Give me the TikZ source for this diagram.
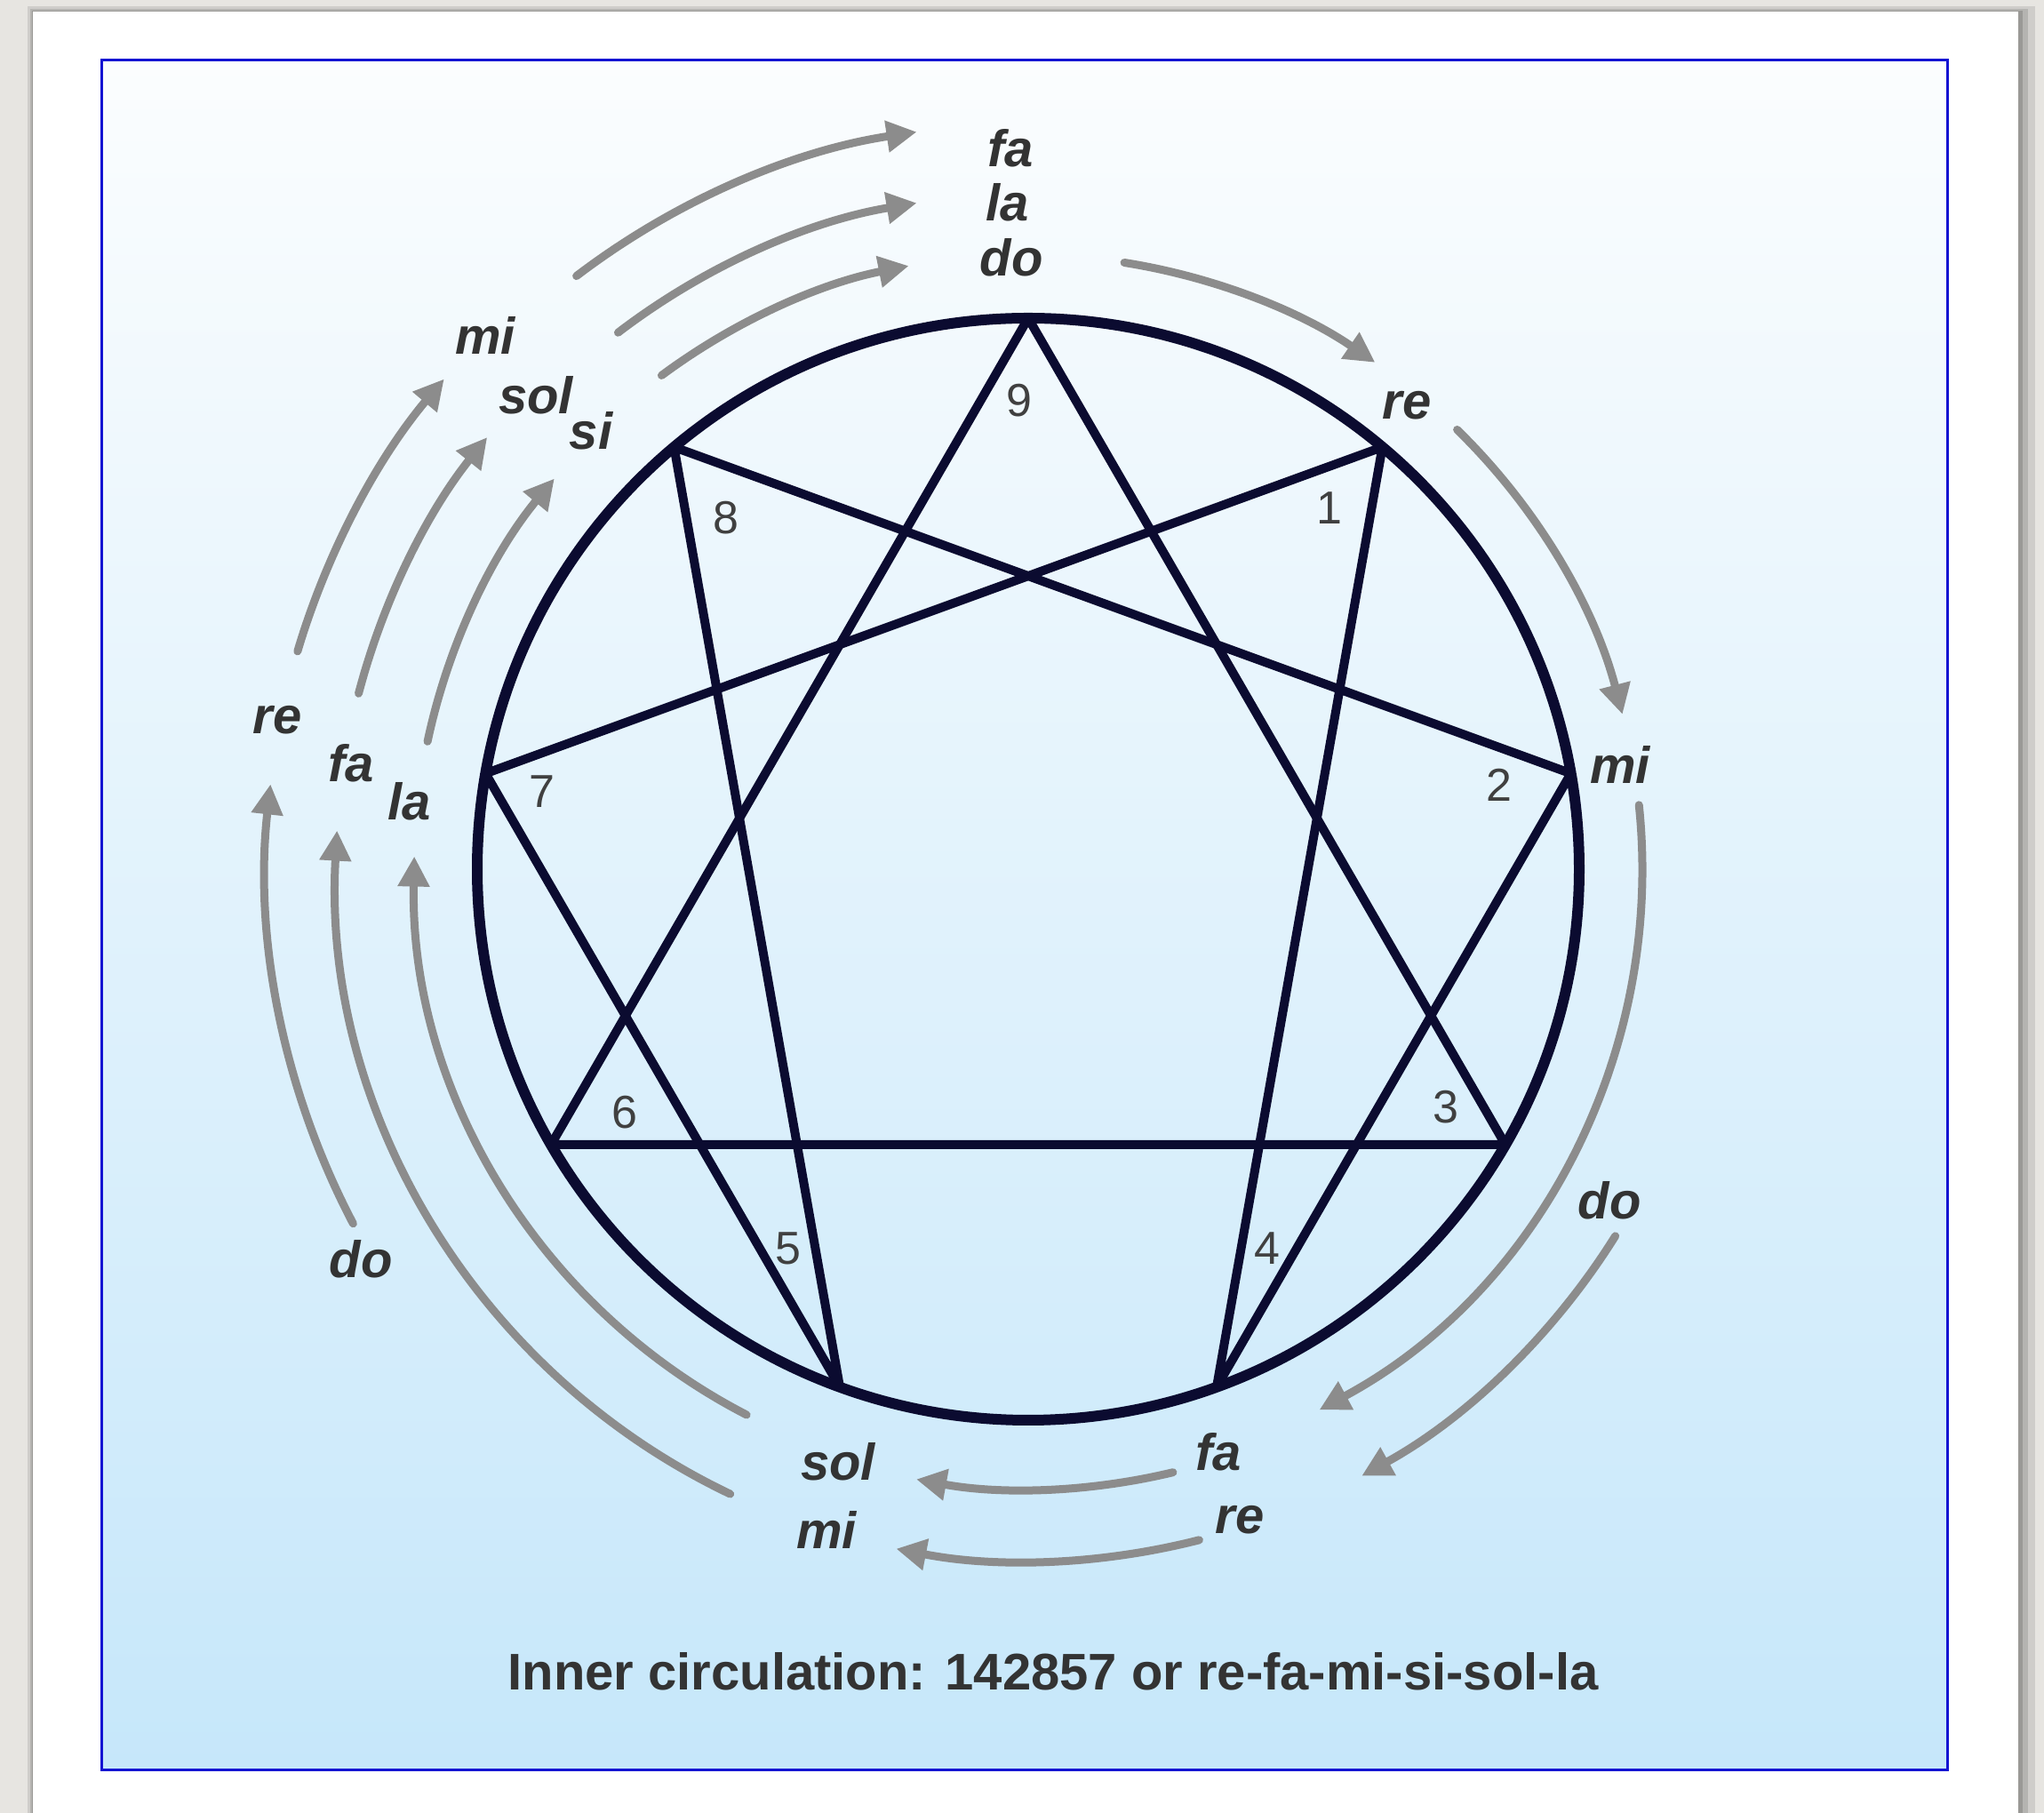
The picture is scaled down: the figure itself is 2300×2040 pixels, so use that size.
\documentclass[tikz,border=0pt]{standalone}
\usepackage{fontspec}
\setmainfont{Liberation Sans}
\usetikzlibrary{arrows.meta}
\definecolor{navy}{HTML}{0B0B30}
\definecolor{arrgray}{HTML}{8C8C8C}
\definecolor{txt}{HTML}{333333}
\definecolor{numc}{HTML}{404040}
\definecolor{bluetop}{HTML}{FBFDFE}
\definecolor{bluebot}{HTML}{C6E7FA}
\definecolor{framec}{HTML}{1414D2}
\definecolor{stone}{HTML}{E7E5E1}
\newcommand\myarc[4]{\path (c) ++(#2:#1) coordinate (#4);
  \draw[arr] (#4) arc[start angle=#2,end angle=#3,radius=#1];}
\begin{document}
\begin{tikzpicture}[x=1pt,y=1pt,
  lab/.style={font=\fontsize{58}{70}\selectfont\bfseries\itshape,text=txt,inner sep=0pt,anchor=base},
  num/.style={font=\fontsize{52}{62}\selectfont,text=numc,inner sep=0pt,anchor=base},
  arr/.style={arrgray,line width=9pt,line cap=round,-{Triangle[length=34pt,width=34pt]}},
  ring/.style={navy,line width=12pt},
  star/.style={navy,line width=10pt,line join=round}]
\useasboundingbox (0,0) rectangle (2300,2040);
% background and card
\fill[stone] (0,0) rectangle (2300,2040);
\fill[black,opacity=0.10] (31,0) rectangle (2290,2033);
\fill[black,opacity=0.12] (34,0) rectangle (2282,2030);
\fill[black,opacity=0.15] (36,0) rectangle (2276,2028);
\fill[white] (37,0) rectangle (2271,2027);
\shade[top color=bluetop,bottom color=bluebot] (114,48) rectangle (2191,1972);
\draw[framec,line width=3pt] (114,48) rectangle (2191,1972);
% enneagram
\coordinate (c) at (1157,1062);
\foreach \k in {1,...,9} {\path (c) ++({90-40*\k}:620) coordinate (p\k);}
\draw[star] (p9) -- (p3) -- (p6) -- cycle;
\draw[star] (p1) -- (p4) -- (p2) -- (p8) -- (p5) -- (p7) -- cycle;
\draw[ring] (c) circle[radius=620];
% arrows
\myarc{691}{81}{55.6}{s1}
\myarc{691}{45.7}{14.6}{s2}
\myarc{691}{6}{-61.7}{s3}
\myarc{779}{-32}{-61.2}{s4}
\myarc{698}{-76.5}{-100.4}{s5}
\myarc{779}{-75.7}{-101}{s6}
\myarc{858}{207.7}{173.6}{s7}
\myarc{779}{244.5}{176.8}{s8}
\myarc{691}{242.7}{178.8}{s9}
\myarc{858}{163.4}{140}{s10}
\myarc{779}{165.3}{141.4}{s11}
\myarc{691}{168}{140.5}{s12}
\myarc{839}{127.3}{98.6}{s13}
\myarc{760}{127.4}{99.5}{s14}
\myarc{692}{126.6}{101.2}{s15}
% solfege labels
\node[lab] (tfa) at (1137,1852) {fa};
\node[lab] (tla) at (1134,1791) {la};
\node[lab] (tdo) at (1138,1729) {do};
\node[lab] (rre) at (1583,1568) {re};
\node[lab] (rmi) at (1823,1158) {mi};
\node[lab] (rdo) at (1811,668) {do};
\node[lab] (bfa) at (1371,385) {fa};
\node[lab] (bre) at (1395,314) {re};
\node[lab] (bsol) at (943,374) {sol};
\node[lab] (bmi) at (930,297) {mi};
\node[lab] (ldo) at (406,602) {do};
\node[lab] (lre) at (312,1214) {re};
\node[lab] (lfa) at (395,1160) {fa};
\node[lab] (lla) at (461,1117) {la};
\node[lab] (lmi) at (546,1641) {mi};
\node[lab] (lsol) at (603,1574) {sol};
\node[lab] (lsi) at (665,1534) {si};
% numbers
\node[num] (n9) at (1147,1571) {9};
\node[num] (n1) at (1496,1450) {1};
\node[num] (n2) at (1687,1138) {2};
\node[num] (n3) at (1627,776) {3};
\node[num] (n4) at (1426,617) {4};
\node[num] (n5) at (887,617) {5};
\node[num] (n6) at (703,770) {6};
\node[num] (n7) at (610,1131) {7};
\node[num] (n8) at (817,1439) {8};
% caption
\node[font=\fontsize{58}{70}\selectfont\bfseries,text=txt,inner sep=0pt,anchor=base] (cap) at (1185,138) {Inner circulation: 142857 or re-fa-mi-si-sol-la};
\end{tikzpicture}
\end{document}
